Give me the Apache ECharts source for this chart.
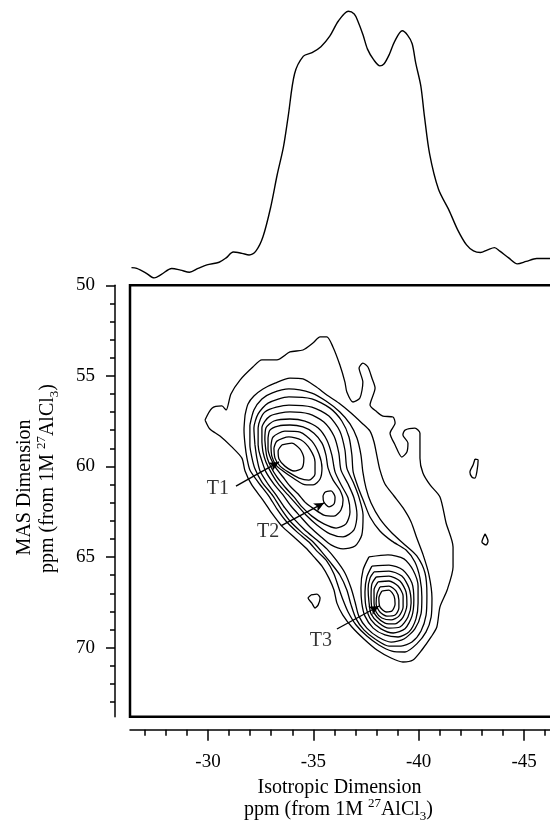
<!DOCTYPE html>
<html>
<head>
<meta charset="utf-8">
<script src="https://cdn.jsdelivr.net/npm/echarts@6.0.0/dist/echarts.min.js"></script>
<style>
  html, body { margin: 0; padding: 0; background: #fff; overflow: hidden; }
  /* wider than the window: the plot box runs off the right edge like the original */
  #chart { width: 600px; height: 823px; }
</style>
</head>
<body>
<div id="chart"></div>
<script>
// tick positions (ppm)
const xMajorTicks = [-30, -35, -40, -45];
const xMinorTicks = [-27, -28, -29, -31, -32, -33, -34, -36, -37, -38, -39, -41, -42, -43, -44, -46];
const yMajorTicks = [50, 55, 60, 65, 70];
const yMinorTicks = [51, 52, 53, 54, 56, 57, 58, 59, 61, 62, 63, 64, 66, 67, 68, 69, 71, 72, 73];

// isotropic projection on top (ppm, relative intensity)
const specPpm = [-26.37, -26.62, -27.04, -27.45, -27.79, -28.28, -28.70, -29.12, -29.53, -29.95,
  -30.53, -30.86, -31.20, -31.61, -31.95, -32.28, -32.61, -32.98, -33.28, -33.58,
  -33.81, -34.11, -34.53, -34.94, -35.36, -35.78, -36.19, -36.66, -36.94, -37.11,
  -37.36, -37.57, -37.86, -38.16, -38.36, -38.61, -38.86, -39.22, -39.47, -39.69,
  -39.86, -40.10, -40.27, -40.52, -40.94, -41.44, -41.85, -42.27, -42.60, -42.93,
  -43.27, -43.60, -43.85, -44.27, -44.68, -45.10, -45.60, -46.23];
const specInt = [4.8, 4.5, 2.9, 1.0, 2.3, 4.5, 3.9, 3.1, 4.5, 5.8,
  6.8, 8.4, 10.6, 10.1, 9.5, 11.0, 16.2, 27.3, 39.0, 49.4,
  61.0, 76.6, 83.1, 84.4, 86.6, 90.5, 96.1, 99.7, 98.7, 96.1,
  90.9, 85.7, 81.8, 79.5, 80.3, 83.8, 88.6, 92.5, 90.9, 87.7,
  80.5, 72.1, 61.0, 46.8, 33.8, 26.0, 18.8, 13.2, 11.0, 10.4,
  11.4, 12.2, 10.9, 8.4, 6.2, 7.1, 8.2, 8.2];

// contour lines, [isotropic ppm, MAS ppm], outermost first
const c1 = [[-29.86,57.43],[-30.19,56.78],[-30.66,56.66],[-30.86,56.88],[-31.09,56.00],[-31.52,55.23],[-32.13,54.51],[-32.56,54.12],[-33.27,54.12],[-33.89,53.68],[-34.51,53.57],[-34.98,53.19],[-35.32,52.85],[-35.64,52.85],[-35.93,53.40],[-36.26,54.40],[-36.50,55.34],[-36.59,55.89],[-36.88,56.44],[-37.21,56.22],[-37.35,55.34],[-37.17,54.57],[-37.35,54.29],[-37.59,54.51],[-37.78,55.12],[-37.93,55.67],[-37.69,56.61],[-38.02,56.99],[-38.30,57.22],[-38.78,57.27],[-38.88,57.60],[-38.64,58.16],[-38.88,58.81],[-39.20,59.48],[-39.44,59.20],[-39.49,58.71],[-39.25,58.26],[-39.35,57.99],[-39.82,57.88],[-40.06,58.16],[-40.06,59.54],[-40.20,60.36],[-40.54,61.02],[-41.01,61.68],[-41.30,63.12],[-41.63,64.44],[-41.63,65.55],[-41.35,66.82],[-41.01,67.75],[-40.86,68.86],[-40.59,69.41],[-40.15,70.13],[-39.73,70.68],[-39.25,70.79],[-38.69,70.57],[-38.02,70.13],[-37.40,69.52],[-36.83,68.86],[-36.40,68.20],[-36.12,67.54],[-35.98,66.82],[-35.74,66.16],[-35.41,65.50],[-35.03,64.99],[-34.65,64.50],[-34.08,63.89],[-33.51,63.29],[-33.03,62.57],[-32.61,61.85],[-32.08,61.02],[-31.76,60.25],[-31.61,59.54],[-31.13,58.92],[-30.57,58.32],[-30.09,57.93]];
const c2 = [[-31.76,57.16],[-31.90,56.55],[-32.18,56.11],[-32.61,55.72],[-33.18,55.40],[-33.89,55.12],[-34.51,55.17],[-35.08,55.56],[-35.64,56.05],[-36.21,56.50],[-36.79,57.05],[-37.30,57.60],[-37.69,58.05],[-37.88,58.65],[-38.02,59.43],[-38.16,60.19],[-38.40,60.97],[-38.83,61.63],[-39.26,62.29],[-39.64,63.06],[-39.91,63.95],[-40.21,64.88],[-40.49,65.99],[-40.63,67.26],[-40.59,68.31],[-40.35,69.13],[-39.91,69.79],[-39.35,70.24],[-38.73,70.19],[-38.11,69.85],[-37.54,69.36],[-37.03,68.75],[-36.65,68.03],[-36.41,67.37],[-36.21,66.71],[-35.98,65.93],[-35.64,65.22],[-35.17,64.67],[-34.79,64.17],[-34.22,63.61],[-33.70,63.01],[-33.27,62.34],[-32.89,61.63],[-32.38,60.86],[-31.99,60.19],[-31.85,59.54],[-31.76,58.81],[-31.71,57.99]];
const c3 = [[-31.99,57.71],[-32.18,56.88],[-32.56,56.27],[-33.03,55.95],[-33.84,55.72],[-34.93,55.95],[-35.60,56.39],[-36.26,56.99],[-36.74,57.65],[-37.07,58.43],[-37.26,59.37],[-37.35,60.30],[-37.50,61.19],[-37.74,62.02],[-38.16,62.89],[-38.73,63.67],[-39.35,64.33],[-39.91,64.94],[-40.30,65.88],[-40.39,67.09],[-40.35,68.20],[-40.11,69.08],[-39.68,69.69],[-39.16,69.91],[-38.59,69.91],[-37.93,69.52],[-37.40,69.02],[-37.03,68.41],[-36.79,67.64],[-36.59,66.82],[-36.26,65.99],[-35.79,65.27],[-35.37,64.67],[-34.99,64.17],[-34.42,63.61],[-33.89,63.01],[-33.47,62.34],[-33.09,61.63],[-32.56,60.86],[-32.23,60.13],[-32.08,59.48],[-31.99,58.81]];
const c4 = [[-32.23,58.81],[-32.18,57.88],[-32.38,57.10],[-32.85,56.50],[-33.84,56.16],[-34.93,56.27],[-35.79,56.78],[-36.35,57.49],[-36.69,58.37],[-36.83,59.37],[-36.89,60.30],[-37.12,61.13],[-37.40,61.96],[-37.69,62.79],[-38.16,63.56],[-38.73,64.12],[-39.40,64.61],[-39.82,65.27],[-40.06,66.16],[-40.15,67.20],[-40.11,68.14],[-39.82,68.96],[-39.30,69.52],[-38.69,69.69],[-38.07,69.41],[-37.54,68.92],[-37.16,68.26],[-36.98,67.48],[-36.79,66.71],[-36.50,65.88],[-36.08,65.16],[-35.64,64.55],[-35.17,64.06],[-34.60,63.50],[-34.08,62.89],[-33.65,62.29],[-33.27,61.63],[-32.85,60.97],[-32.47,60.25],[-32.32,59.54]];
// T1 + T2 group
const g5 = [[-32.38,58.81],[-32.38,57.88],[-32.70,56.99],[-33.84,56.61],[-34.93,56.72],[-35.74,57.22],[-36.26,58.05],[-36.50,59.09],[-36.59,60.09],[-36.89,60.86],[-37.16,61.68],[-37.36,62.68],[-37.30,63.78],[-36.98,64.39],[-36.41,64.55],[-35.84,64.33],[-35.37,63.89],[-34.84,63.34],[-34.37,62.74],[-33.94,62.18],[-33.56,61.57],[-33.13,60.97],[-32.75,60.30],[-32.56,59.70],[-32.42,59.15]];
const g6 = [[-32.56,58.65],[-32.56,57.88],[-32.94,57.22],[-33.89,56.99],[-34.79,57.10],[-35.50,57.54],[-35.98,58.32],[-36.21,59.26],[-36.31,60.19],[-36.65,60.97],[-36.93,61.74],[-37.07,62.68],[-36.93,63.50],[-36.41,63.89],[-35.79,63.72],[-35.17,63.23],[-34.65,62.68],[-34.22,62.12],[-33.80,61.57],[-33.37,61.02],[-33.03,60.41],[-32.75,59.75],[-32.61,59.20]];
const g7 = [[-32.70,58.54],[-32.75,57.88],[-33.13,57.49],[-33.89,57.38],[-34.60,57.49],[-35.23,57.88],[-35.64,58.54],[-35.88,59.37],[-36.03,60.30],[-36.35,61.08],[-36.65,61.74],[-36.74,62.51],[-36.55,63.17],[-36.08,63.40],[-35.50,63.17],[-34.93,62.74],[-34.46,62.23],[-34.08,61.68],[-33.65,61.13],[-33.27,60.58],[-32.99,60.03],[-32.79,59.43]];
// T1 rings
const a8 = [[-32.85,58.43],[-32.94,57.99],[-33.33,57.77],[-33.89,57.71],[-34.51,57.82],[-35.03,58.16],[-35.41,58.71],[-35.60,59.37],[-35.70,60.09],[-35.94,60.75],[-36.26,61.30],[-36.41,61.85],[-36.31,62.40],[-35.98,62.74],[-35.50,62.68],[-35.03,62.34],[-34.65,62.02],[-34.28,61.52],[-33.89,61.08],[-33.56,60.58],[-33.23,60.09],[-32.99,59.59],[-32.85,59.04]];
const a9 = [[-32.99,58.87],[-33.09,58.37],[-33.65,58.05],[-34.37,58.10],[-34.93,58.60],[-35.27,59.31],[-35.41,60.09],[-35.32,60.69],[-34.99,61.02],[-34.51,60.97],[-34.04,60.64],[-33.56,60.25],[-33.23,59.92],[-33.03,59.43]];
const a10 = [[-33.13,58.98],[-33.27,58.60],[-33.84,58.37],[-34.42,58.54],[-34.84,59.04],[-35.08,59.75],[-35.08,60.41],[-34.79,60.75],[-34.32,60.64],[-33.80,60.30],[-33.42,59.98],[-33.18,59.54]];
const a11 = [[-33.51,58.81],[-33.98,58.71],[-34.37,59.04],[-34.55,59.54],[-34.46,60.09],[-34.08,60.25],[-33.65,59.98],[-33.37,59.59],[-33.33,59.15]];
// T2 top
const b9 = [[-35.55,61.41],[-35.84,61.35],[-36.03,61.68],[-35.98,62.07],[-35.74,62.23],[-35.50,61.96],[-35.46,61.63]];
// T3 rings
const d5 = [[-37.64,64.99],[-38.54,64.88],[-39.30,65.10],[-39.73,65.71],[-39.97,66.60],[-39.97,67.54],[-39.87,68.41],[-39.54,69.13],[-39.02,69.41],[-38.40,69.30],[-37.84,68.92],[-37.45,68.26],[-37.30,67.54],[-37.26,66.71],[-37.36,65.71]];
const d6 = [[-37.78,65.50],[-38.59,65.44],[-39.25,65.71],[-39.68,66.43],[-39.77,67.37],[-39.68,68.26],[-39.35,68.96],[-38.79,69.19],[-38.21,68.96],[-37.74,68.47],[-37.50,67.75],[-37.45,66.93],[-37.54,66.10]];
const d7 = [[-37.88,65.82],[-38.59,65.77],[-39.20,66.05],[-39.54,66.71],[-39.64,67.54],[-39.49,68.31],[-39.11,68.86],[-38.59,68.92],[-38.11,68.64],[-37.74,68.14],[-37.64,67.48],[-37.60,66.76],[-37.69,66.16]];
const d8 = [[-37.98,66.10],[-38.59,66.05],[-39.11,66.32],[-39.40,66.93],[-39.44,67.64],[-39.26,68.31],[-38.88,68.69],[-38.40,68.64],[-38.02,68.31],[-37.78,67.81],[-37.74,67.09],[-37.78,66.48]];
const d9 = [[-38.07,66.37],[-38.59,66.32],[-39.02,66.60],[-39.26,67.15],[-39.26,67.75],[-39.06,68.26],[-38.69,68.47],[-38.25,68.36],[-37.98,68.03],[-37.88,67.54],[-37.88,66.82]];
const d10 = [[-38.16,66.65],[-38.59,66.60],[-38.93,66.88],[-39.06,67.37],[-39.06,67.81],[-38.88,68.20],[-38.49,68.26],[-38.16,68.03],[-37.98,67.59],[-38.02,67.04]];
const d11 = [[-38.25,66.88],[-38.59,66.82],[-38.83,67.15],[-38.88,67.59],[-38.73,67.98],[-38.45,68.03],[-38.16,67.75],[-38.11,67.26]];
// small isolated islands
const blobL = [[-34.89,67.09],[-35.17,67.04],[-35.32,67.26],[-35.23,67.64],[-35.08,67.81],[-34.93,67.54],[-34.75,67.26]];
const blobR1 = [[-42.67,59.59],[-42.82,59.64],[-42.76,60.30],[-42.67,60.64],[-42.52,60.58],[-42.43,60.30],[-42.58,59.92]];
const blobR2 = [[-43.15,63.72],[-43.29,64.12],[-43.20,64.33],[-43.00,64.17]];

// site labels and their pointer arrows
const peakNames = ['T1', 'T2', 'T3'];
const peakLabelPos = [[-30.47, 61.24], [-32.85, 63.61], [-35.36, 69.63]];
const arrowFrom = [[-31.33, 61.08], [-33.46, 63.28], [-36.12, 68.97]];
const arrowTo = [[-33.37, 59.75], [-35.51, 62.01], [-38.12, 67.70]];

const serif = '"Liberation Serif", "DejaVu Serif", serif';
const ink = '#000';
const xMin = -47.18, xMax = -26.30;

const contours = [c1, c2, c3, c4, g5, g6, g7, a8, a9, a10, a11, b9,
  d5, d6, d7, d8, d9, d10, d11, blobL, blobR1, blobR2];

const rich = {
  a: { fontFamily: serif, fontSize: 20, lineHeight: 26, verticalAlign: 'middle', fill: ink },
  sup: { fontFamily: serif, fontSize: 13, lineHeight: 13, verticalAlign: 'top', fill: ink },
  sub: { fontFamily: serif, fontSize: 13, lineHeight: 13, verticalAlign: 'bottom', fill: ink }
};
const unitText = '{a|ppm (from 1M }{sup|27}{a|AlCl}{sub|3}{a|)}';

function textEl(x, y, text, rotated, useRich) {
  const style = {
    text: text, fill: ink, fontFamily: serif, fontSize: 20,
    align: 'center', verticalAlign: 'middle', textAlign: 'center'
  };
  if (useRich) style.rich = rich;
  return { type: 'text', x: x, y: y, rotation: rotated ? Math.PI / 2 : 0, silent: true, style: style };
}

const chart = echarts.init(document.getElementById('chart'), null, { renderer: 'canvas' });

const option = {
  animation: false,
  backgroundColor: '#fff',
  grid: [
    { left: 130, top: 285.3, width: 440, height: 431.4, show: true,
      borderColor: ink, borderWidth: 2.5, backgroundColor: 'transparent' },
    { left: 130, top: 10.5, width: 440, height: 270.1, show: false }
  ],
  xAxis: [
    { gridIndex: 0, type: 'value', min: xMin, max: xMax, inverse: true, position: 'bottom', offset: 13,
      axisLine: { show: true, onZero: false, lineStyle: { color: ink, width: 1.5 } },
      axisTick: { show: true, length: 11, lineStyle: { color: ink, width: 1.5 }, customValues: xMajorTicks },
      axisLabel: { show: true, margin: 23, color: ink, fontFamily: serif, fontSize: 19, customValues: xMajorTicks },
      splitLine: { show: false } },
    { gridIndex: 0, type: 'value', min: xMin, max: xMax, inverse: true, position: 'bottom', offset: 13,
      axisLine: { show: false },
      axisTick: { show: true, length: 6, lineStyle: { color: ink, width: 1.5 }, customValues: xMinorTicks },
      axisLabel: { show: false }, splitLine: { show: false } },
    { gridIndex: 1, type: 'value', min: xMin, max: xMax, inverse: true, show: false }
  ],
  yAxis: [
    { gridIndex: 0, type: 'value', min: 50, max: 73.81, inverse: true, position: 'left', offset: 15,
      axisLine: { show: true, onZero: false, lineStyle: { color: ink, width: 1.5 } },
      axisTick: { show: true, length: 9, lineStyle: { color: ink, width: 1.5 }, customValues: yMajorTicks },
      axisLabel: { show: true, margin: 20, color: ink, fontFamily: serif, fontSize: 19, customValues: yMajorTicks },
      splitLine: { show: false } },
    { gridIndex: 0, type: 'value', min: 50, max: 73.81, inverse: true, position: 'left', offset: 15,
      axisLine: { show: false },
      axisTick: { show: true, length: 5, lineStyle: { color: ink, width: 1.5 }, customValues: yMinorTicks },
      axisLabel: { show: false }, splitLine: { show: false } },
    { gridIndex: 1, type: 'value', min: 0, max: 100, show: false }
  ],
  graphic: [
    textEl(339.5, 788, 'Isotropic Dimension', false, false),
    textEl(338.5, 810, unitText, false, true),
    textEl(25, 487.5, 'MAS Dimension', true, false),
    textEl(48, 478.5, unitText, true, true)
  ],
  series: contours.map(pts => ({
    type: 'line', xAxisIndex: 0, yAxisIndex: 0,
    data: pts.concat([pts[0]]),
    smooth: 0.25, symbol: 'none', silent: true,
    lineStyle: { color: ink, width: 1.3 }
  })).concat([
    {
      type: 'line', xAxisIndex: 2, yAxisIndex: 2,
      data: specPpm.map((p, i) => [p, specInt[i]]),
      smooth: 0.3, symbol: 'none', silent: true, clip: false,
      lineStyle: { color: ink, width: 1.4 }
    },
    {
      type: 'scatter', xAxisIndex: 0, yAxisIndex: 0, silent: true,
      symbolSize: 1, itemStyle: { color: 'rgba(0,0,0,0)' },
      data: peakNames.map((n, i) => ({ name: n, value: peakLabelPos[i] })),
      label: { show: true, position: 'inside', formatter: '{b}', color: ink, fontFamily: serif, fontSize: 20 },
      markLine: {
        silent: true, symbol: ['none', 'arrow'], symbolSize: [7, 10],
        label: { show: false },
        lineStyle: { color: ink, width: 1.4, type: 'solid' },
        emphasis: { disabled: true },
        data: arrowFrom.map((f, i) => [{ coord: f }, { coord: arrowTo[i] }])
      }
    }
  ])
};

chart.setOption(option);
</script>
</body>
</html>
